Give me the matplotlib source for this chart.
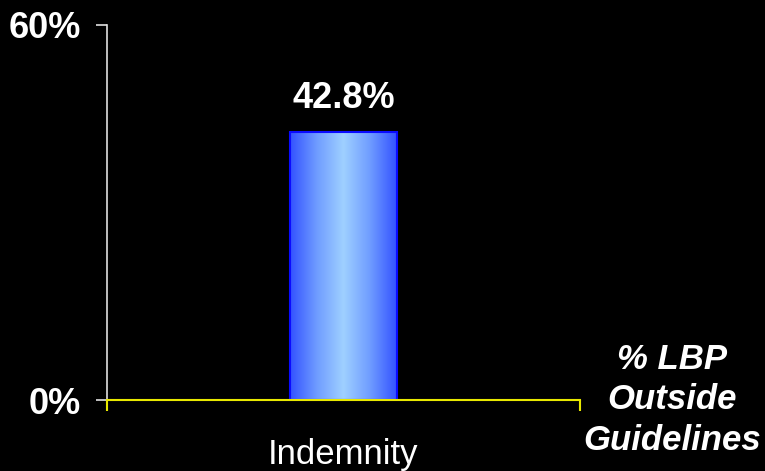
import numpy as np
import matplotlib.pyplot as plt
from matplotlib.colors import LinearSegmentedColormap

categories = ["Indemnity"]
values = [42.8]
y_ticks = [0, 60]
side_label = "% LBP\nOutside\nGuidelines"

plt.rcParams["font.family"] = ["Liberation Sans", "DejaVu Sans"]

fig = plt.figure(figsize=(7.65, 4.71), dpi=100, facecolor="black")
ax = fig.add_axes([0.1399, 0.1507, 0.758 - 0.1399, 0.947 - 0.1507], facecolor="black")

x = np.arange(len(categories))
bars = ax.bar(x, values, width=0.226, color="none", edgecolor="#0a0aff", linewidth=1.5, zorder=3)

# horizontal shading inside each bar
shade = LinearSegmentedColormap.from_list(
    "barshade", ["#3352ff", "#6f9cff", "#9fd0ff", "#6f9cff", "#3352ff"]
)
grad = np.linspace(0, 1, 256).reshape(1, -1)
for b in bars:
    x0, y0 = b.get_x(), b.get_y()
    w, h = b.get_width(), b.get_height()
    im = ax.imshow(grad, cmap=shade, aspect="auto", extent=(x0, x0 + w, y0, y0 + h), zorder=2)
    im.set_clip_path(b)
    ax.text(x0 + w / 2, y0 + h + 2.6, f"{h:.1f}%", ha="center", va="bottom",
            color="white", fontsize=26, fontweight="bold")

ax.set_xlim(-0.5, len(categories) - 0.5)
ax.set_ylim(y_ticks[0], y_ticks[-1])

ax.spines["top"].set_visible(False)
ax.spines["right"].set_visible(False)
ax.spines["left"].set_color("#e0e0e0")
ax.spines["left"].set_linewidth(1.2)
ax.spines["bottom"].set_color("#e8e800")
ax.spines["bottom"].set_linewidth(1.5)
ax.spines["bottom"].set_zorder(4)

ax.set_yticks(y_ticks)
ax.set_yticklabels([f"{t}%" for t in y_ticks])
ax.tick_params(axis="y", colors="#e0e0e0", labelcolor="white", length=8, width=1.2, pad=11,
               labelsize=26)
for lbl in ax.get_yticklabels():
    lbl.set_fontweight("bold")

ax.set_xticks([-0.5, len(categories) - 0.5])
ax.set_xticklabels([])
ax.tick_params(axis="x", colors="#e8e800", length=8, width=1.5)
ax.set_xticks(x, minor=True)
ax.set_xticklabels(categories, minor=True)
ax.tick_params(axis="x", which="minor", length=0, pad=27, labelcolor="white", labelsize=25)

fig.text(0.879, 0.151, side_label, ha="center", va="center", color="white",
         fontsize=25, fontweight="bold", fontstyle="italic", linespacing=1.3)

fig.savefig("out.png", dpi=100, facecolor="black")
